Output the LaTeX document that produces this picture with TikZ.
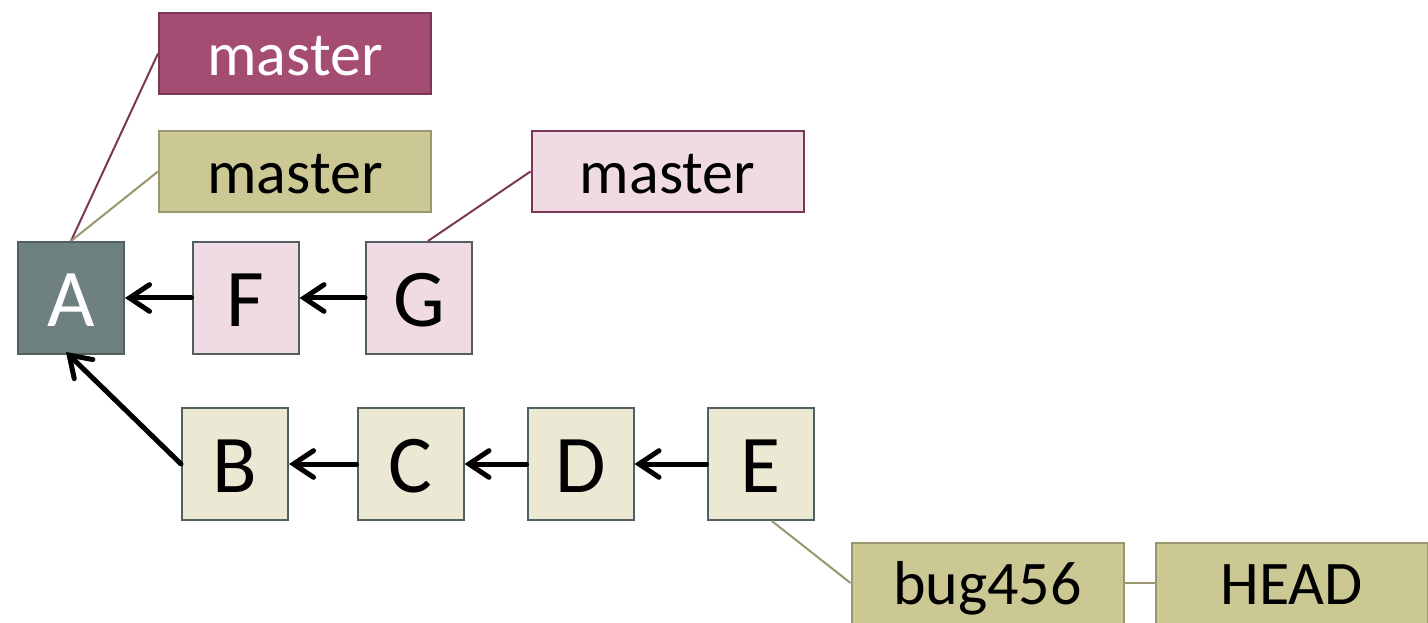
\documentclass[tikz,border=0pt]{standalone}
\usepackage{fontspec}
\setmainfont{Carlito}
\usetikzlibrary{arrows.meta}

\definecolor{slateFill}{RGB}{110,128,128}
\definecolor{slateLine}{RGB}{80,96,96}
\definecolor{pinkFill}{RGB}{240,218,227}
\definecolor{plumFill}{RGB}{165,76,114}
\definecolor{plumLine}{RGB}{122,56,86}
\definecolor{oliveFill}{RGB}{203,200,148}
\definecolor{oliveLine}{RGB}{154,150,112}
\definecolor{creamFill}{RGB}{235,232,212}

\tikzset{every picture/.style={line width=0.75pt}}
\tikzset{
  commit/.style={draw=slateLine, line width=1.5pt, inner sep=0pt, minimum width=79.5pt, minimum height=84pt, text height=58.4pt, text depth=15.4pt, font=\fontsize{61.5}{70}\selectfont},
  refbox/.style={line width=1.5pt, inner sep=0pt, minimum width=204pt, minimum height=60.75pt, text height=44.2pt, text depth=11.6pt, font=\fontsize{46.5}{54}\selectfont},
  parent/.style={line width=3.75pt, line cap=round, -{Straight Barb[length=15pt,width=20pt,line cap=round]}},
  reflink/.style={line width=1.5pt}
}

\begin{document}
\begin{tikzpicture}[x=0.75pt,y=0.75pt,yscale=-1,xscale=1]
\useasboundingbox (0,0) rectangle (1428,623);

% Commits
\node [commit, fill=slateFill, text=white] (A) at (71,298) {A};
\node [commit, fill=pinkFill] (F) at (245.5,298) {F};
\node [commit, fill=pinkFill] (G) at (419,298) {G};
\node [commit, fill=creamFill] (B) at (235,464) {B};
\node [commit, fill=creamFill] (C) at (410.5,464) {C};
\node [commit, fill=creamFill] (D) at (580.5,464) {D};
\node [commit, fill=creamFill] (E) at (760.5,464) {E};

% Refs
\node [refbox, fill=plumFill, draw=plumLine, text=white] (mOld) at (295,53.5) {master};
\node [refbox, fill=oliveFill, draw=oliveLine] (mOrig) at (295,171.5) {master};
\node [refbox, fill=pinkFill, draw=plumLine] (mNew) at (667.5,171.5) {master};
\node [refbox, fill=oliveFill, draw=oliveLine] (bug) at (987.5,583) {bug456};
\node [refbox, fill=oliveFill, draw=oliveLine] (head) at (1291.5,583) {HEAD};

% Ref links
\draw [reflink, draw=plumLine] (A.north) -- (mOld.west);
\draw [reflink, draw=oliveLine] (A.north) -- (mOrig.west);
\draw [reflink, draw=plumLine] ([xshift=6.75pt]G.north) -- (mNew.west);
\draw [reflink, draw=oliveLine] ([xshift=8.5pt]E.south) -- (bug.west);
\draw [reflink, draw=oliveLine] (bug.east) -- (head.west);

% Parent arrows
\draw [parent] (F.west) -- (A.east);
\draw [parent] (G.west) -- (F.east);
\draw [parent] (B.west) -- ([xshift=-3.75pt,yshift=-2.25pt]A.south);
\draw [parent] (C.west) -- (B.east);
\draw [parent] (D.west) -- (C.east);
\draw [parent] (E.west) -- (D.east);

\end{tikzpicture}
\end{document}
